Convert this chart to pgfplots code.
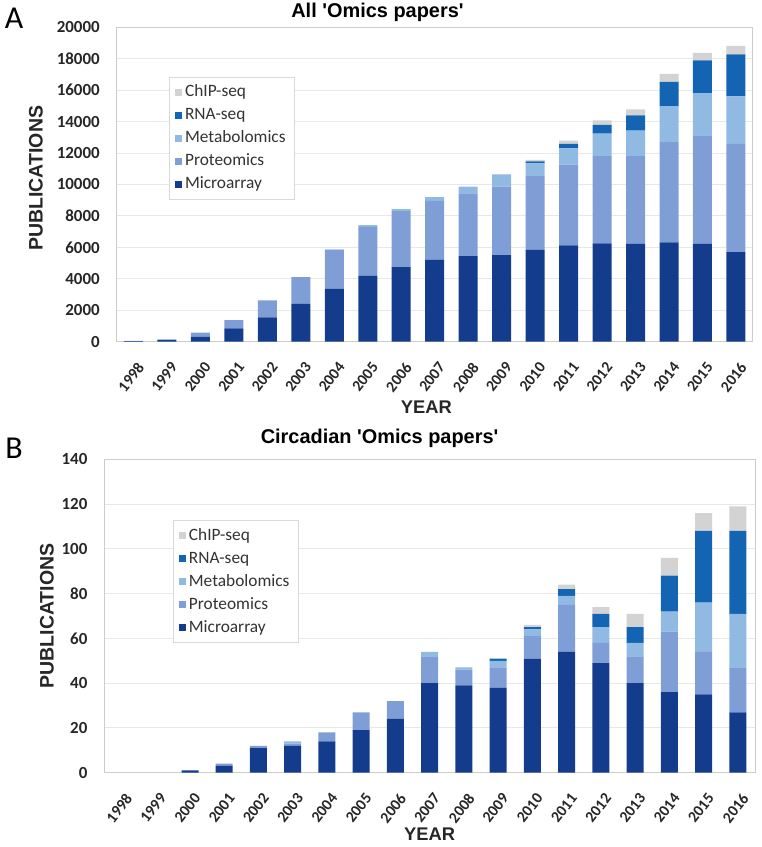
\documentclass[border=0pt]{standalone}
\usepackage{pgfplots}
\pgfplotsset{compat=1.18}
\usepackage{pgfplotstable}
\usepackage{fontspec}
\setmainfont{Carlito}
\newfontfamily\arial{Liberation Sans}

\definecolor{cMicro}{HTML}{143C8C}
\definecolor{cProt}{HTML}{7F9ED6}
\definecolor{cMetab}{HTML}{90BAE2}
\definecolor{cRNA}{HTML}{1464B4}
\definecolor{cChip}{HTML}{D3D3D3}

\pgfplotstableread{
x micro prot metab rna chip
0 40 20 0 0 0
1 100 50 0 0 0
2 320 250 0 0 0
3 850 530 0 0 0
4 1550 1080 0 0 0
5 2400 1700 0 0 0
6 3370 2460 50 0 0
7 4180 3120 120 0 0
8 4750 3550 140 0 0
9 5200 3750 240 0 0
10 5450 3990 420 0 0
11 5500 4360 790 0 0
12 5850 4690 810 125 85
13 6130 5130 1040 280 210
14 6260 5550 1420 560 290
15 6230 5580 1610 980 380
16 6320 6380 2290 1530 510
17 6230 6900 2690 2080 480
18 5690 6890 3030 2670 530
}\tabA

\pgfplotstableread{
x micro prot metab rna chip
0 0 0 0 0 0
1 0 0 0 0 0
2 1 0 0 0 0
3 3 1 0 0 0
4 11 1 0 0 0
5 12 1 1 0 0
6 14 4 0 0 0
7 19 8 0 0 0
8 24 8 0 0 0
9 40 12 2 0 0
10 39 7 1 0 0
11 38 9 3 1 0
12 51 10 3 1 1
13 54 21 4 3 2
14 49 9 7 6 3
15 40 12 6 7 6
16 36 27 9 16 8
17 35 19 22 32 8
18 27 20 24 37 11
}\tabB

\pgfplotsset{
  omics/.style={
    scale only axis,
    ybar stacked,
    xmin=-0.5, xmax=18.5, ymin=0,
    xtick={0,...,18},
    xticklabels={1998,1999,2000,2001,2002,2003,2004,2005,2006,2007,2008,2009,2010,2011,2012,2013,2014,2015,2016},
    axis line style={draw=black!20},
    major tick length=0pt,
    ymajorgrids,
    grid style={draw=black!9, line width=0.5pt},
    tick label style={font=\bfseries\fontsize{8.5}{9}\selectfont, text=black!85},
    xticklabel style={font=\bfseries\fontsize{7.9}{9}\selectfont, yshift=-9.5bp, xshift=1.5bp, rotate=52, anchor=north east, inner sep=0pt},
    yticklabel style={anchor=east, inner sep=0pt, xshift=-8.3bp},
    scaled y ticks=false,
    /pgf/number format/assume math mode=true,
    /pgf/number format/1000 sep={},
    xlabel={YEAR},
    ylabel={PUBLICATIONS},
    every axis title shift=0pt,
    xlabel style={font=\arial\bfseries\fontsize{9.2}{10}\selectfont, text=black!85},
    ylabel style={font=\arial\bfseries\fontsize{9.8}{11}\selectfont, text=black!85},
    title style={font=\arial\bfseries\fontsize{10}{11}\selectfont, anchor=center},
    reverse legend,
    legend cell align=left,
    legend image code/.code={\fill[##1, draw=none] (0bp,-1.8bp) rectangle (3.6bp,1.8bp);},
    legend style={anchor=north west, draw=black!15, fill=white,
      font=\fontsize{8.7}{9}\selectfont, text=black!80,
      inner xsep=3bp, inner ysep=2bp,
      nodes={inner sep=1.3bp, text height=6.5bp, text depth=1.8bp},
      row sep=0.6bp},
  }
}

\begin{document}
\begin{tikzpicture}
\path[use as bounding box] (0,0) rectangle (381bp,423.5bp);

\node[font=\fontsize{16}{16}\selectfont, anchor=center] at (7bp,414.5bp) {A};
\node[font=\fontsize{16}{16}\selectfont, anchor=center] at (7bp,199.5bp) {B};

\begin{axis}[omics,
  at={(58.35bp,252.65bp)}, anchor=south west,
  width=318bp, height=157.2bp,
  bar width=9.5bp,
  ymax=20000, ytick={0,2000,...,20000},
  title={All 'Omics papers'},
  title style={at={(axis description cs:0.41,1.049)}},
  xlabel style={at={(axis description cs:0.487,-0.207)}, anchor=center},
  ylabel style={at={(axis description cs:-0.127,0.52)}, anchor=center},
  legend style={at={(0.082,0.842)}},
]
\addplot[fill=cMicro, draw=none] table[x=x, y=micro] {\tabA};
\addplot[fill=cProt, draw=none] table[x=x, y=prot] {\tabA};
\addplot[fill=cMetab, draw=none] table[x=x, y=metab] {\tabA};
\addplot[fill=cRNA, draw=none] table[x=x, y=rna] {\tabA};
\addplot[fill=cChip, draw=none] table[x=x, y=chip] {\tabA};
\legend{Microarray, Proteomics, Metabolomics, RNA-seq, ChIP-seq}
\end{axis}

\begin{axis}[omics,
  at={(52.2bp,37.15bp)}, anchor=south west,
  width=325.3bp, height=156.7bp,
  bar width=8.5bp,
  ymax=140, ytick={0,20,...,140},
  title={Circadian 'Omics papers'},
  title style={at={(axis description cs:0.423,1.066)}},
  xlabel style={at={(axis description cs:0.5,-0.195)}, anchor=center},
  ylabel style={at={(axis description cs:-0.0885,0.5)}, anchor=center},
  legend style={at={(0.105,0.806)}},
]
\addplot[fill=cMicro, draw=none] table[x=x, y=micro] {\tabB};
\addplot[fill=cProt, draw=none] table[x=x, y=prot] {\tabB};
\addplot[fill=cMetab, draw=none] table[x=x, y=metab] {\tabB};
\addplot[fill=cRNA, draw=none] table[x=x, y=rna] {\tabB};
\addplot[fill=cChip, draw=none] table[x=x, y=chip] {\tabB};
\legend{Microarray, Proteomics, Metabolomics, RNA-seq, ChIP-seq}
\end{axis}
\end{tikzpicture}
\end{document}
